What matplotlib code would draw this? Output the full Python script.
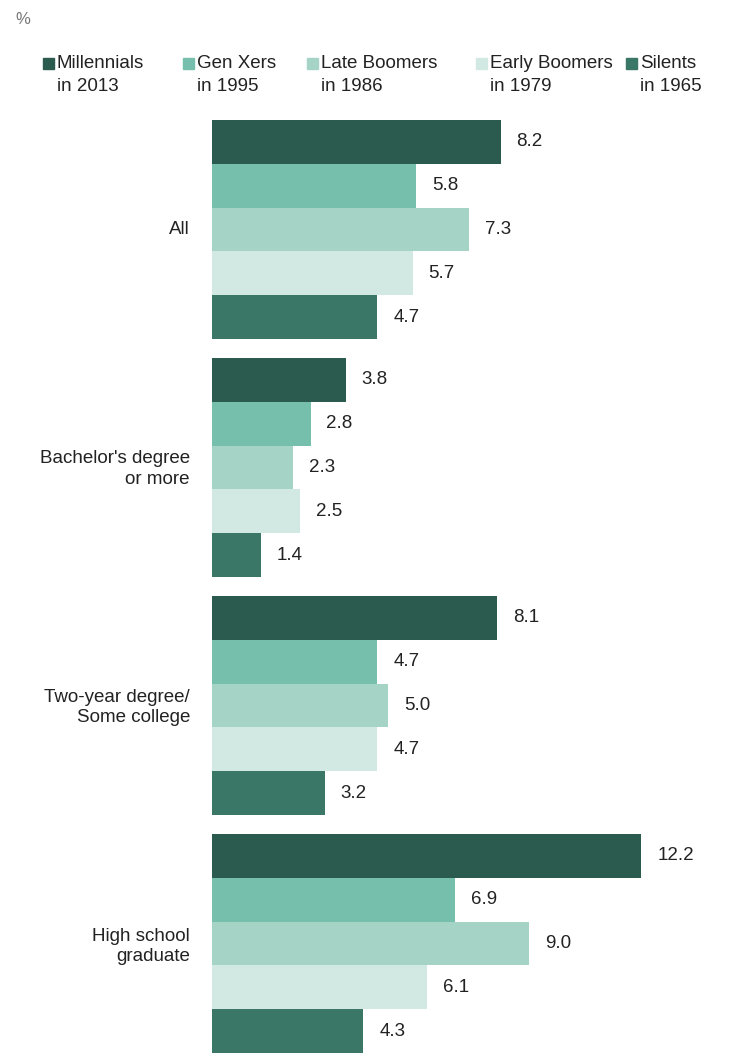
import matplotlib.pyplot as plt
from matplotlib.patches import Rectangle

plt.rcParams['font.family'] = ['Liberation Sans', 'DejaVu Sans']

categories = ["All", "Bachelor's degree\nor more", "Two-year degree/\nSome college", "High school\ngraduate"]
series = ["Millennials\nin 2013", "Gen Xers\nin 1995", "Late Boomers\nin 1986", "Early Boomers\nin 1979", "Silents\nin 1965"]
colors = ["#2b5a4f", "#76bfad", "#a5d4c7", "#d2e9e3", "#3a7766"]

values = {
    "All": [8.2, 5.8, 7.3, 5.7, 4.7],
    "Bachelor's degree\nor more": [3.8, 2.8, 2.3, 2.5, 1.4],
    "Two-year degree/\nSome college": [8.1, 4.7, 5.0, 4.7, 3.2],
    "High school\ngraduate": [12.2, 6.9, 9.0, 6.1, 4.3],
}

W, H = 741, 1053
fig = plt.figure(figsize=(W / 100, H / 100), dpi=100)
ax = fig.add_axes([212 / W, 0, 1 - 212 / W, (1053 - 120) / H])

period = 5.43
for g, cat in enumerate(categories):
    for i, v in enumerate(values[cat]):
        y = g * period + i
        ax.barh(y, v, height=1.0, color=colors[i], edgecolor='none')
        ax.text(v + 0.45, y, f"{v:.1f}", va='center', ha='left', fontsize=13.5, color='#222222')
    fig.text(190 / W, 1 - (120 + (g * period + 2.0 + 0.5) * 44) / H, cat,
             ha='right', va='center', fontsize=13.5, color='#222222', linespacing=1.25)

ax.set_xlim(0, (W - 212) / 35.2)
ax.set_ylim(3 * period + 4.5, -0.5)
ax.axis('off')

# percent sign
fig.text(15 / W, 1 - 20 / H, "%", fontsize=12, color='#777777', va='center', ha='left')

# legend
leg_x = [43, 183, 307, 476, 626]
for x, lab, c in zip(leg_x, series, colors):
    fig.patches.append(Rectangle((x / W, 1 - 69 / H), 11 / W, 11 / H, transform=fig.transFigure,
                                 color=c, edgecolor='none'))
    fig.text((x + 14) / W, 1 - 75 / H, lab, ha='left', va='center', fontsize=13.5,
             color='#222222', linespacing=1.45)

fig.savefig("out.png", dpi=100)
